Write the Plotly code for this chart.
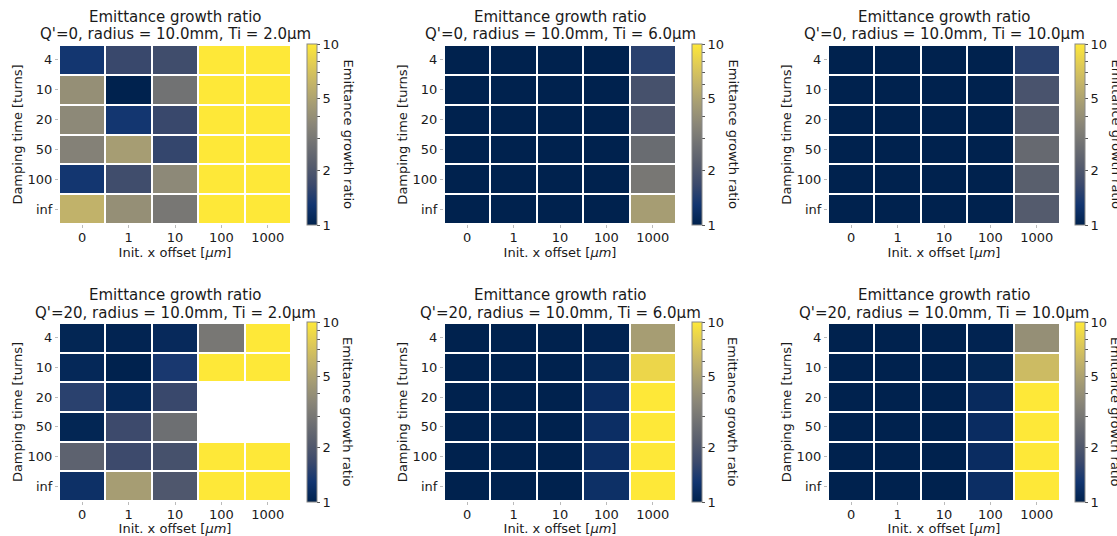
import numpy as np
import plotly.graph_objects as go

# Axis categories
offsets = ["0", "1", "10", "100", "1000"]          # initial x offset [um]
damping = ["4", "10", "20", "50", "100", "inf"]    # damping time [turns]

# Emittance growth ratio, rows = damping time, columns = initial offset
growth_q0_ti2 = [
    [1.30, 1.65, 1.75, 10.0, 10.0],
    [4.00, 1.00, 2.80, 10.0, 10.0],
    [3.70, 1.30, 1.65, 10.0, 10.0],
    [3.40, 4.70, 1.60, 10.0, 10.0],
    [1.30, 1.75, 3.70, 10.0, 10.0],
    [5.90, 4.00, 3.00, 10.0, 10.0],
]
growth_q0_ti6 = [
    [1.00, 1.00, 1.00, 1.00, 1.50],
    [1.00, 1.00, 1.00, 1.00, 1.85],
    [1.00, 1.00, 1.00, 1.00, 2.00],
    [1.00, 1.00, 1.00, 1.00, 2.60],
    [1.00, 1.00, 1.00, 1.00, 3.00],
    [1.00, 1.00, 1.00, 1.00, 4.70],
]
growth_q0_ti10 = [
    [1.00, 1.00, 1.00, 1.00, 1.50],
    [1.00, 1.00, 1.00, 1.00, 1.90],
    [1.00, 1.00, 1.00, 1.00, 2.10],
    [1.00, 1.00, 1.00, 1.00, 2.50],
    [1.00, 1.00, 1.00, 1.00, 2.20],
    [1.00, 1.00, 1.00, 1.00, 2.10],
]
growth_q20_ti2 = [
    [1.05, 1.03, 1.10, 3.00, 10.0],
    [1.08, 1.00, 1.35, 10.0, 10.0],
    [1.50, 1.08, 1.65, None, None],
    [1.05, 1.70, 2.70, None, None],
    [2.30, 1.70, 1.85, 10.0, 10.0],
    [1.20, 4.70, 2.00, 10.0, 10.0],
]
growth_q20_ti6 = [
    [1.00, 1.00, 1.00, 1.02, 4.70],
    [1.00, 1.00, 1.00, 1.08, 8.50],
    [1.00, 1.00, 1.00, 1.15, 10.0],
    [1.00, 1.00, 1.00, 1.18, 10.0],
    [1.00, 1.00, 1.00, 1.18, 10.0],
    [1.00, 1.00, 1.00, 1.20, 10.0],
]
growth_q20_ti10 = [
    [1.00, 1.00, 1.00, 1.02, 4.00],
    [1.00, 1.00, 1.00, 1.05, 6.50],
    [1.00, 1.00, 1.00, 1.12, 10.0],
    [1.00, 1.00, 1.00, 1.15, 10.0],
    [1.00, 1.00, 1.00, 1.15, 10.0],
    [1.00, 1.00, 1.00, 1.18, 10.0],
]

panel_chroma = [0, 0, 0, 20, 20, 20]
panel_ti = [2.0, 6.0, 10.0, 2.0, 6.0, 10.0]
panel_data = [growth_q0_ti2, growth_q0_ti6, growth_q0_ti10,
              growth_q20_ti2, growth_q20_ti6, growth_q20_ti10]

cbar_ticks = [1, 2, 3, 4, 5, 6, 7, 8, 9, 10]
cbar_labels = ["1", "2", "", "", "5", "", "", "", "", "10"]

W, H = 1117, 536
FONT = "DejaVu Sans"
TXT = "#1a1a1a"

# pixel geometry of the grid
col_x = [(59, 291), (444, 676), (828, 1060)]
cbar_x = [307, 692, 1075]
row_y = [(45, 224), (323, 501)]
title_y = [(17, 34), (295, 313)]

def px(x):
    return x / W

def py(y):
    return 1 - y / H

fig = go.Figure()
annotations = []

for i, (data, q, t) in enumerate(zip(panel_data, panel_chroma, panel_ti)):
    r, c = divmod(i, 3)
    n = i + 1
    xa = "xaxis" if n == 1 else f"xaxis{n}"
    ya = "yaxis" if n == 1 else f"yaxis{n}"
    xref = "x" if n == 1 else f"x{n}"
    yref = "y" if n == 1 else f"y{n}"
    x0, x1 = col_x[c]
    y0, y1 = row_y[r]

    z = np.array([[np.nan if v is None else np.log10(v) for v in row] for row in data])
    fig.add_trace(go.Heatmap(
        z=z, x=offsets, y=damping, xaxis=xref, yaxis=yref,
        colorscale="Cividis", zmin=0, zmax=1, xgap=2, ygap=2,
        hoverongaps=False,
        colorbar=dict(
            x=px(cbar_x[c]), xanchor="left", xpad=0, ypad=0,
            y=py(y1 + 1), yanchor="bottom", len=(y1 - y0 + 2) / H, lenmode="fraction",
            thickness=10, outlinecolor="#888", outlinewidth=1,
            tickvals=list(np.log10(cbar_ticks)), ticktext=cbar_labels,
            ticks="outside", ticklen=3, tickcolor="#555",
            tickfont=dict(family=FONT, size=13, color=TXT),
        ),
    ))

    fig.layout[xa] = dict(
        domain=[px(x0), px(x1)], anchor=yref, type="category",
        categoryorder="array", categoryarray=offsets,
        showgrid=False, zeroline=False, showline=False,
        ticks="outside", ticklen=3, tickcolor="#bbb",
        ticklabelstandoff=-2,
        tickfont=dict(family=FONT, size=13, color=TXT),
        title=dict(text="Init. x offset [<i>μm</i>]", standoff=2,
                   font=dict(family=FONT, size=13, color=TXT)),
    )
    fig.layout[ya] = dict(
        domain=[py(y1), py(y0)], anchor=xref, type="category",
        categoryorder="array", categoryarray=damping, autorange="reversed",
        showgrid=False, zeroline=False, showline=False,
        ticks="outside", ticklen=3, tickcolor="#bbb",
        tickfont=dict(family=FONT, size=13, color=TXT),
        title=dict(text="Damping time [turns]", standoff=2,
                   font=dict(family=FONT, size=13, color=TXT)),
    )

    xc = (x0 + x1) / 2
    annotations.append(dict(
        x=px(xc), y=py(title_y[r][0]), xref="paper", yref="paper",
        text="Emittance growth ratio", showarrow=False,
        xanchor="center", yanchor="middle",
        font=dict(family=FONT, size=15, color=TXT)))
    annotations.append(dict(
        x=px(xc), y=py(title_y[r][1]), xref="paper", yref="paper",
        text=f"Q'={q}, radius = 10.0mm, Ti = {t:.1f}μm", showarrow=False,
        xanchor="center", yanchor="middle",
        font=dict(family=FONT, size=15, color=TXT)))
    annotations.append(dict(
        x=px(cbar_x[c] + 41), y=py((y0 + y1) / 2), xref="paper", yref="paper",
        text="Emittance growth ratio", showarrow=False, textangle=90,
        xanchor="center", yanchor="middle",
        font=dict(family=FONT, size=13, color=TXT)))

fig.update_layout(
    width=W, height=H,
    margin=dict(l=0, r=0, t=0, b=0),
    paper_bgcolor="white", plot_bgcolor="white",
    annotations=annotations,
    showlegend=False,
)

fig.write_html("out.html")
